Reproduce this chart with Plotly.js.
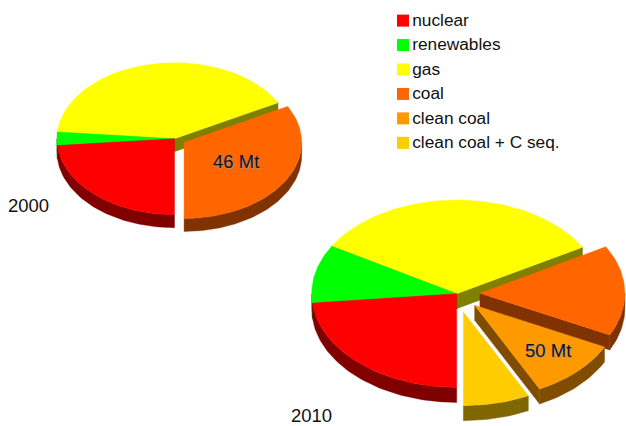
<!DOCTYPE html>
<html>
<head>
<meta charset="utf-8">
<script src="https://cdn.plot.ly/plotly-3.0.1.min.js"></script>
<style>html,body{margin:0;padding:0;background:#fff}#chart{width:626px;height:426px}</style>
</head>
<body>
<div id="chart"></div>
<script>
// Energy mix in two years, drawn as tilted, extruded pies with pulled-out slices.
const categories = ['nuclear', 'renewables', 'gas', 'coal', 'clean coal', 'clean coal + C seq.'];
const topColors = ['#ff0000', '#00ff00', '#ffff00', '#ff6600', '#ff9900', '#ffcc00'];
const wallColors = ['#800000', '#008000', '#808000', '#803300', '#804c00', '#806600'];

const values2000 = [33, 4, 57, 46, 0, 0];
const values2010 = [114, 49, 162, 76, 50, 36];
const explode2000 = [0, 0, 0, 0.095, 0, 0];
const explode2010 = [0, 0, 0, 0.16, 0.175, 0.2];

const FONT = '"Liberation Sans", Arial, sans-serif';
const RAD = Math.PI / 180;

function arcPoints(cx, cy, rx, ry, from, to, dy) {
  const pts = [];
  const n = Math.max(2, Math.ceil(Math.abs(to - from) / 1.5));
  for (let i = 0; i <= n; i++) {
    const t = (from + (to - from) * i / n) * RAD;
    pts.push([cx + rx * Math.cos(t), cy + ry * Math.sin(t) + dy]);
  }
  return pts;
}

function polygon(pts, color, name) {
  return {
    type: 'scatter', mode: 'lines', fill: 'toself', fillcolor: color,
    x: pts.map(p => p[0]), y: pts.map(p => p[1]),
    line: {color: color, width: 0.4},
    name: name, showlegend: false, hoverinfo: 'name'
  };
}

// One pie: slices run clockwise from straight down; nearer slices paint over farther ones.
function pieTraces(values, explode, cx, cy, rx, ry, depth, year) {
  const total = values.reduce((a, b) => a + b, 0);
  let angle = 90;
  const slices = values.map((v, i) => {
    const s = {i, from: angle, to: angle + v / total * 360};
    angle = s.to;
    return s;
  }).filter(s => s.to > s.from);
  slices.sort((a, b) => Math.sin((a.from + a.to) / 2 * RAD) - Math.sin((b.from + b.to) / 2 * RAD));

  const traces = [];
  slices.forEach(s => {
    const mid = (s.from + s.to) / 2 * RAD;
    const ox = cx + explode[s.i] * rx * Math.cos(mid);
    const oy = cy + explode[s.i] * ry * Math.sin(mid);
    const label = categories[s.i] + ' ' + year;

    // Cut faces that turn towards the viewer
    [s.from, s.to].forEach((edge, k) => {
      const c = Math.cos(edge * RAD);
      if (k === 0 ? c < -1e-6 : c > 1e-6) {
        const ex = ox + rx * c, ey = oy + ry * Math.sin(edge * RAD);
        traces.push(polygon([[ox, oy], [ex, ey], [ex, ey + depth], [ox, oy + depth], [ox, oy]],
          wallColors[s.i], label));
      }
    });

    // Rim: only the front half of the ellipse shows
    for (const shift of [0, 360]) {
      const a = Math.max(s.from, shift), b = Math.min(s.to, shift + 180);
      if (b > a) {
        const upper = arcPoints(ox, oy, rx, ry, a, b, 0);
        const lower = arcPoints(ox, oy, rx, ry, b, a, depth);
        const rim = upper.concat(lower);
        rim.push(upper[0]);
        traces.push(polygon(rim, wallColors[s.i], label));
      }
    }

    // Top face
    const top = [[ox, oy]].concat(arcPoints(ox, oy, rx, ry, s.from, s.to, 0));
    top.push([ox, oy]);
    traces.push(polygon(top, topColors[s.i], label));
  });
  return traces;
}

const traces = [
  ...pieTraces(values2000, explode2000, 174.5, 138.7, 117.6, 76, 13, '2000'),
  ...pieTraces(values2010, explode2010, 456.7, 293.7, 145, 93.7, 15, '2010')
];

// Key: a square and its label on each row
categories.forEach((name, i) => {
  const row = 20.6 + i * 24.45;
  traces.push({
    type: 'scatter', mode: 'markers',
    x: [403], y: [row],
    marker: {symbol: 'square', size: 12, color: topColors[i]},
    name: name, showlegend: false, hoverinfo: 'name'
  });
  traces.push({
    type: 'scatter', mode: 'text',
    x: [412.2], y: [row + 0.8],
    text: [name], textposition: 'middle right',
    textfont: {family: FONT, size: 17.3, color: '#111'},
    name: name, showlegend: false, hoverinfo: 'skip'
  });
});

const note = (text, x, y, shadow) => ({
  text, x, y, xref: 'x', yref: 'y', xanchor: 'center', yanchor: 'middle',
  showarrow: false,
  font: Object.assign({family: FONT, size: 18.5, color: '#111'}, shadow ? {shadow: '1px 1px 1px #999'} : {})
});

const layout = {
  width: 626, height: 426,
  margin: {l: 0, r: 0, t: 0, b: 0},
  paper_bgcolor: '#fff', plot_bgcolor: '#fff',
  showlegend: false,
  xaxis: {range: [0, 626], visible: false, fixedrange: true},
  yaxis: {range: [426, 0], visible: false, fixedrange: true},
  annotations: [
    note('46 Mt', 236, 161, true),
    note('50 Mt', 547.5, 350, true),
    note('2000', 28, 205, false),
    note('2010', 311, 415.5, false)
  ]
};

Plotly.newPlot('chart', traces, layout, {displayModeBar: false});
</script>
</body>
</html>
